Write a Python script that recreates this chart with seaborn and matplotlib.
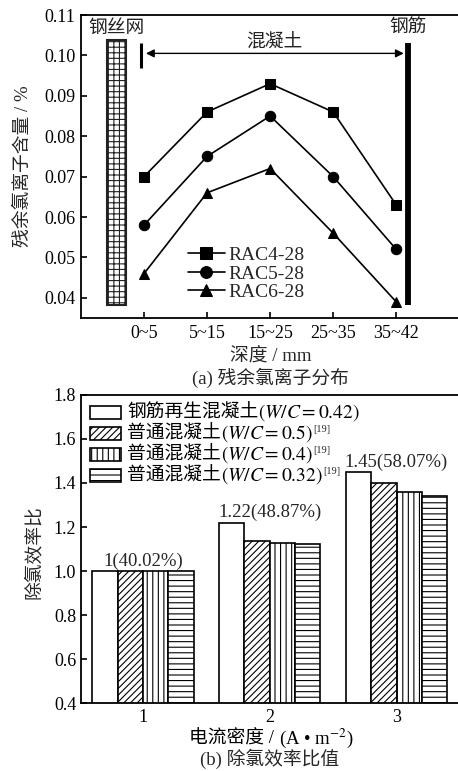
import numpy as np
import pandas as pd
import matplotlib
matplotlib.use("Agg")
import matplotlib.pyplot as plt
from matplotlib.patches import Rectangle
from matplotlib.offsetbox import TextArea, HPacker, AnchoredOffsetbox
import seaborn as sns

# ---------------- data ----------------
depths = ["0~5", "5~15", "15~25", "25~35", "35~42"]
rac4 = [0.070, 0.086, 0.093, 0.086, 0.063]
rac5 = [0.058, 0.075, 0.085, 0.070, 0.052]
rac6 = [0.046, 0.066, 0.072, 0.056, 0.039]
series_names = ["RAC4-28", "RAC5-28", "RAC6-28"]

densities = ["1", "2", "3"]
bar_types = ["钢筋再生混凝土(W/C=0.42)",
             "普通混凝土(W/C=0.5)[19]",
             "普通混凝土(W/C=0.4)[19]",
             "普通混凝土(W/C=0.32)[19]"]
legend_cn = ["钢筋再生混凝土", "普通混凝土", "普通混凝土", "普通混凝土"]
legend_math = ["$(W/C=0.42)$", "$(W/C=0.5)$", "$(W/C=0.4)$", "$(W/C=0.32)$"]
legend_sup = ["", "[19]", "[19]", "[19]"]
ratio_rac = [1.00, 1.22, 1.45]
ratio_05 = [1.00, 1.137, 1.40]
ratio_04 = [1.00, 1.128, 1.358]
ratio_032 = [1.00, 1.124, 1.34]
annot_texts = ["1(40.02%)", "1.22(48.87%)", "1.45(58.07%)"]

# ---------------- style ----------------
sns.set_theme(style="ticks")
FAM = ["Liberation Serif", "Noto Sans CJK SC"]
plt.rcParams["font.family"] = FAM
plt.rcParams["mathtext.fontset"] = "stix"
plt.rcParams["hatch.linewidth"] = 0.8
plt.rcParams["axes.linewidth"] = 1.3

W, H = 458, 771
fig = plt.figure(figsize=(W / 100, H / 100), dpi=100)

# ---------------- top panel ----------------
ax1 = fig.add_axes([81 / W, 1 - 318 / H, 0.83, (318 - 15) / H])
xi = np.arange(len(depths))
df_line = pd.DataFrame({
    "x": np.concatenate([xi, xi, xi]),
    "v": rac4 + rac5 + rac6,
    "s": np.repeat(series_names, len(depths)),
})
markers = {"RAC4-28": "s", "RAC5-28": "o", "RAC6-28": "^"}
sns.lineplot(data=df_line, x="x", y="v", hue="s", style="s",
             markers=markers, dashes=False,
             palette=["black"] * 3, markersize=7.5, linewidth=1.2,
             markeredgecolor="black", ax=ax1)
ax1.set_xlim(-1.0, 5.03)
ax1.set_ylim(0.035, 0.11)
ax1.set_yticks([0.04, 0.05, 0.06, 0.07, 0.08, 0.09, 0.10, 0.11])
ax1.set_yticklabels(["0.04", "0.05", "0.06", "0.07", "0.08", "0.09", "0.10", "0.11"])
ax1.set_xticks(xi)
ax1.set_xticklabels(depths)
ax1.tick_params(direction="in", length=4, width=1.2, labelsize=13, colors="black", pad=5)
ax1.tick_params(axis="y", pad=4)

# mesh (钢丝网)
ax1.add_patch(Rectangle((-0.59, 0.0383), 0.30, 0.1038 - 0.0383,
                        facecolor="white", edgecolor="#222222", hatch="+++",
                        linewidth=1.5, zorder=3))
# rebar
ax1.plot([4.19, 4.19], [0.0383, 0.1031], color="black", lw=4.2, solid_capstyle="butt")
# left tick of concrete
ax1.plot([-0.05, -0.05], [0.0969, 0.1031], color="black", lw=2.2, solid_capstyle="butt")
ax1.annotate("", xy=(4.12, 0.1005), xytext=(0.03, 0.1005),
             arrowprops=dict(arrowstyle="<|-|>", color="black", lw=1.0,
                             mutation_scale=12, shrinkA=0, shrinkB=0))
ax1.text(-0.43, 0.1066, "钢丝网", ha="center", va="center", fontsize=13.5, color="#222222")
ax1.text(4.19, 0.1066, "钢筋", ha="center", va="center", fontsize=13.5, color="#222222")
ax1.text(2.06, 0.1031, "混凝土", ha="center", va="center", fontsize=13.5, color="#222222")

ax1.set_xlabel("深度 / mm", fontsize=13.5)
ax1.set_ylabel("残余氯离子含量 / %", fontsize=13.5)
ax1.xaxis.set_label_coords(0.5, -0.100)
ax1.yaxis.set_label_coords(-0.129, 0.5)
leg1 = ax1.legend(frameon=False, loc="upper left", bbox_to_anchor=(0.255, 0.268),
                  fontsize=14, handlelength=1.9, labelspacing=0.05,
                  borderpad=0, handletextpad=0.2)
for h in leg1.legend_handles:
    h.set_markersize(8.5)

# ---------------- bottom panel ----------------
ax2 = fig.add_axes([81 / W, 1 - 703 / H, 0.83, (703 - 395) / H])
df_bar = pd.DataFrame({
    "d": densities * 4,
    "r": ratio_rac + ratio_05 + ratio_04 + ratio_032,
    "t": np.repeat(bar_types, len(densities)),
})
sns.barplot(data=df_bar, x="d", y="r", hue="t", palette=["white"] * 4,
            saturation=1, edgecolor="black", linewidth=1.2, width=0.8,
            legend=False, ax=ax2)
hatches = ["", "/////", "|||", "---"]
for cont, hh in zip(ax2.containers, hatches):
    for p in cont:
        p.set_hatch(hh)
ax2.set_ylim(0.4, 1.8)
ax2.set_xlim(-0.49, 2.51)
ax2.set_yticks([0.4, 0.6, 0.8, 1.0, 1.2, 1.4, 1.6, 1.8])
ax2.set_yticklabels(["0.4", "0.6", "0.8", "1.0", "1.2", "1.4", "1.6", "1.8"])
ax2.tick_params(direction="in", length=4, width=1.2, labelsize=13, colors="black")
ax2.tick_params(axis="x", length=0, pad=4)
ax2.set_xlabel("")
for i, (txt, v) in enumerate(zip(annot_texts, ratio_rac)):
    ax2.text(i, v + 0.045, txt, ha="center", va="center", fontsize=13.5)
ax2.set_ylabel("除氯效率比", fontsize=13.5)
ax2.yaxis.set_label_coords(-0.100, 0.49)

AXW = 0.83 * W
AXH = 703 - 395


def ax2x(px):
    return (px - 81) / AXW


def ax2y(py):
    return (703 - py) / AXH


def mixed_text(ax, parts, xy, loc, sizes):
    boxes = [TextArea(p, textprops=dict(fontsize=s, family=FAM, color="black"))
             for p, s in zip(parts, sizes)]
    pack = HPacker(children=boxes, align="baseline", pad=0, sep=0)
    anc = AnchoredOffsetbox(loc=loc, child=pack, pad=0, borderpad=0, frameon=False,
                            bbox_to_anchor=xy, bbox_transform=ax.transAxes)
    anc.set_zorder(5)
    ax.add_artist(anc)
    return boxes


# hand-built legend for the hatched bars
row_centers = [413, 434, 455, 476]
for hh, cn, mt, sp, yc in zip(hatches, legend_cn, legend_math, legend_sup, row_centers):
    ax2.add_patch(Rectangle((ax2x(90), ax2y(yc + 6.5)), ax2x(121) - ax2x(90),
                            13 / AXH, transform=ax2.transAxes, facecolor="white",
                            edgecolor="black", hatch=hh, linewidth=1.2,
                            clip_on=False, zorder=5))
    boxes = mixed_text(ax2, [cn, mt], (ax2x(127), ax2y(yc)), "center left", [13.5, 14])
    if sp:
        ax2.annotate(sp, xy=(1, 1), xycoords=boxes[1], xytext=(0.5, -0.8),
                     textcoords="offset points", ha="left", va="top",
                     fontsize=7.5, zorder=6)

# x label with Chinese + superscript
mixed_text(ax2, ["电流密度 / ", "(A • m$^{-2}$)"], (0.5, ax2y(738)), "center", [13.5, 13.5])

for ax in (ax1, ax2):
    for s in ax.spines.values():
        s.set_color("black")
        s.set_linewidth(1.3)

fig.text(270 / W, 1 - 378 / H, "(a) 残余氯离子分布", ha="center", va="center", fontsize=13.5)
fig.text(270 / W, 1 - 759 / H, "(b) 除氯效率比值", ha="center", va="center", fontsize=13.5)

fig.savefig("out.png", dpi=100, facecolor="white")
